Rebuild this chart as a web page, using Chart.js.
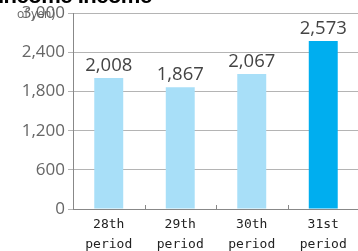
<!DOCTYPE html>
<html><head><meta charset="utf-8">
<script src="https://cdn.jsdelivr.net/npm/chart.js@4"></script>
<style>
html,body{margin:0;padding:0;background:#fff;overflow:hidden;width:358px;height:251px;position:relative}
#wrap{position:absolute;left:0;top:0;width:360px;height:251px}
#title{position:absolute;left:-2px;top:-17px;font:bold 22px "Liberation Sans",Arial,sans-serif;color:#000;white-space:nowrap;letter-spacing:-0.5px}
#unit{position:absolute;left:17px;top:5px;font:12px "Open Sans",sans-serif;color:#666;white-space:nowrap}
</style></head><body>
<div id="wrap"><canvas id="c"></canvas></div>
<div id="title">Income Income</div>
<div id="unit">of yen)</div>
<script>
const categories = [["28th","period"],["29th","period"],["30th","period"],["31st","period"]];
const values = [2008, 1867, 2067, 2573];
const barColors = ["#a8dff8","#a8dff8","#a8dff8","#00aeef"];
const yTicks = [0, 600, 1200, 1800, 2400, 3000];

const valueLabels = {
  id:'valueLabels',
  afterDatasetsDraw(chart){
    const ctx = chart.ctx;
    const meta = chart.getDatasetMeta(0);
    ctx.save();
    ctx.font = '18.5px "Open Sans", sans-serif';
    ctx.fillStyle = '#444';
    ctx.textAlign = 'center';
    ctx.textBaseline = 'alphabetic';
    meta.data.forEach((bar,i)=>{
      ctx.fillText(values[i].toLocaleString('en-US'), bar.x, bar.y - 7);
    });
    ctx.restore();
  }
};
const innerTicks = {
  id:'innerTicks',
  afterDatasetsDraw(chart){
    const ctx = chart.ctx, x = chart.scales.x, y = chart.scales.y;
    ctx.save();
    ctx.strokeStyle = '#888';
    ctx.lineWidth = 1;
    for(let i=1;i<categories.length;i++){
      const px = Math.round((x.getPixelForValue(i-1)+x.getPixelForValue(i))/2)+0.5;
      ctx.beginPath();
      ctx.moveTo(px, y.bottom);
      ctx.lineTo(px, y.bottom-4);
      ctx.stroke();
    }
    ctx.restore();
  }
};

new Chart(document.getElementById('c'), {
  type:'bar',
  data:{labels:categories, datasets:[{data:values, backgroundColor:barColors, borderWidth:0, categoryPercentage:1, barPercentage:0.405}]},
  options:{
    responsive:true, maintainAspectRatio:false, animation:false,
    layout:{padding:{top:12,right:1,left:0,bottom:0}},
    plugins:{legend:{display:false}, tooltip:{enabled:false}},
    scales:{
      x:{
        grid:{display:false},
        border:{display:true,color:'#888',width:1},
        ticks:{color:'#222',font:{family:'"DejaVu Sans Mono", monospace',size:13,lineHeight:1.5},padding:-2,maxRotation:0},
        afterFit(s){s.height=42;}
      },
      y:{
        min:0,max:3000,
        afterBuildTicks(s){s.ticks = yTicks.map(v=>({value:v}));},
        grid:{color:'#b4b4b4',lineWidth:1,tickLength:5,drawTicks:true},
        border:{display:true,color:'#888',width:1},
        ticks:{color:'#666',font:{family:'"Open Sans", sans-serif',size:17},padding:3,callback:v=>v.toLocaleString('en-US')},
        afterFit(s){s.width=73;}
      }
    }
  },
  plugins:[valueLabels, innerTicks]
});
</script>
</body></html>
